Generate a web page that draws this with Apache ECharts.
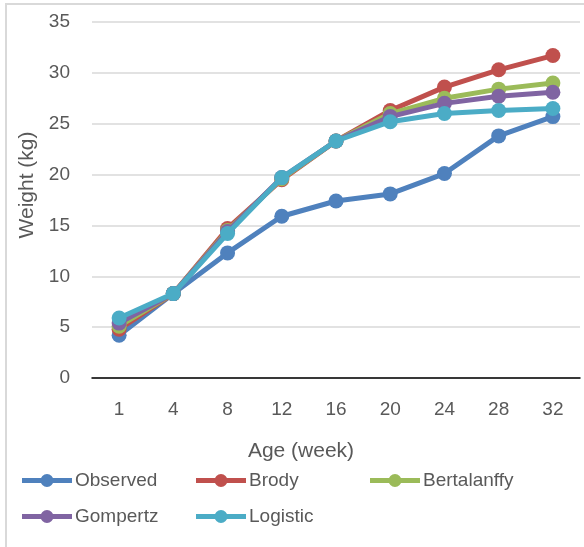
<!DOCTYPE html>
<html>
<head>
<meta charset="utf-8">
<script src="https://cdn.jsdelivr.net/npm/echarts@6/dist/echarts.min.js"></script>
<style>
html,body{margin:0;padding:0;background:#fff;}
#chart{width:584px;height:547px;}
</style>
</head>
<body>
<div id="chart"></div>
<script>
// Age at weighing (weeks)
const ages = ['1', '4', '8', '12', '16', '20', '24', '28', '32'];

// Body weight (kg): observed and fitted by each growth model
const observed     = [4.2, 8.3, 12.3, 15.9, 17.4, 18.1, 20.1, 23.8, 25.7];
const brody        = [4.8, 8.3, 14.7, 19.5, 23.3, 26.3, 28.6, 30.3, 31.7];
const bertalanffy  = [5.1, 8.3, 14.5, 19.6, 23.3, 26.0, 27.5, 28.4, 29.0];
const gompertz     = [5.4, 8.3, 14.4, 19.7, 23.3, 25.7, 27.0, 27.7, 28.1];
const logistic     = [5.9, 8.3, 14.2, 19.7, 23.3, 25.2, 26.0, 26.3, 26.5];

const yTicks = [0, 5, 10, 15, 20, 25, 30, 35];

const seriesDefs = [
  { name: 'Observed',    data: observed,    color: '#4F81BD' },
  { name: 'Brody',       data: brody,       color: '#C0504D' },
  { name: 'Bertalanffy', data: bertalanffy, color: '#9BBB59' },
  { name: 'Gompertz',    data: gompertz,    color: '#8064A2' },
  { name: 'Logistic',    data: logistic,    color: '#4BACC6' }
];

// legend slots: two rows, three columns
const legendSlots = [
  { left: 22,  top: 471 },
  { left: 196, top: 471 },
  { left: 370, top: 471 },
  { left: 22,  top: 507 },
  { left: 196, top: 507 }
];

const font = "'Liberation Sans', 'DejaVu Sans', sans-serif";
const textColor = '#595959';

const chart = echarts.init(document.getElementById('chart'));

// thick line with a dot in the middle
const legendIcon = 'path://M0,4.5 L50,4.5 L50,9.5 L0,9.5 Z ' +
  'M31.5,7 A6.5,6.5 0 1 1 18.5,7 A6.5,6.5 0 1 1 31.5,7 Z';

chart.setOption({
  animation: false,
  backgroundColor: '#fff',
  graphic: [{
    type: 'rect',
    shape: { x: 6, y: 4, width: 600, height: 600 },
    style: { fill: 'none', stroke: '#D9D9D9', lineWidth: 2 },
    silent: true,
    z: -1
  }],
  grid: { left: 92, right: 4, top: 22, height: 356 },
  xAxis: {
    type: 'category',
    data: ages,
    boundaryGap: true,
    name: 'Age (week)',
    nameLocation: 'middle',
    nameGap: 63,
    nameTextStyle: { fontFamily: font, fontSize: 21, color: textColor, padding: [0, 70, 0, 0] },
    axisLine: { lineStyle: { color: '#000', width: 1.5 } },
    axisTick: { show: false },
    axisLabel: { fontFamily: font, fontSize: 19, color: textColor, margin: 22 },
    splitLine: { show: false }
  },
  yAxis: {
    type: 'value',
    min: yTicks[0],
    max: yTicks[yTicks.length - 1],
    interval: 5,
    name: 'Weight (kg)',
    nameLocation: 'middle',
    nameGap: 47,
    nameTextStyle: { fontFamily: font, fontSize: 21, color: textColor, padding: [0, 0, 0, 30] },
    axisLine: { show: false },
    axisTick: { show: false },
    axisLabel: { fontFamily: font, fontSize: 19, color: textColor, margin: 22 },
    splitLine: { lineStyle: { color: '#D9D9D9', width: 1.5 } }
  },
  legend: seriesDefs.map((s, i) => ({
    data: [s.name],
    left: legendSlots[i].left,
    top: legendSlots[i].top,
    padding: 0,
    itemWidth: 50,
    itemHeight: 14,
    icon: legendIcon,
    textStyle: { fontFamily: font, fontSize: 19, color: textColor, padding: [0, 0, 0, -2] }
  })),
  series: seriesDefs.map((s, i) => ({
    name: s.name,
    type: 'line',
    data: s.data,
    symbol: 'circle',
    symbolSize: 15,
    showSymbol: true,
    z: 2 + i,
    itemStyle: { color: s.color },
    lineStyle: { color: s.color, width: 5 }
  }))
});
</script>
</body>
</html>
